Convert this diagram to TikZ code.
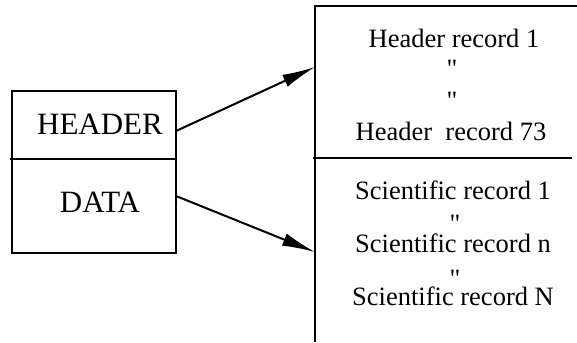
\documentclass[tikz,border=0pt]{standalone}
\usepackage{fontspec}
\setmainfont{Liberation Serif}[Ligatures=TeXOff]
\usetikzlibrary{arrows.meta}
\newcommand{\dq}{\symbol{34}}
\begin{document}
\begin{tikzpicture}[x=1pt,y=-1pt, line width=2pt,
  big/.style={font=\fontsize{31}{37}\selectfont, inner sep=0pt, anchor=base},
  rec/.style={font=\fontsize{26.5}{32}\selectfont, inner sep=0pt, anchor=base},
  arr/.style={-{Latex[length=33pt,width=13pt]}, line width=2pt}]
\useasboundingbox (0,0) rectangle (577,342);
% left box
\draw (12,91) rectangle (176,253);
\draw (10,159) -- (176,159);
\node[big] (hdr) at (100,134) {HEADER};
\node[big] (dat) at (100,212) {DATA};
% right box
\draw (577,6) -- (315,6) -- (315,342);
\draw (313,158) -- (572,158);
\node[rec] (h1) at (454,48) {Header record 1};
\node[rec] (q1) at (452,78) {\dq};
\node[rec] (q2) at (452,109) {\dq};
\node[rec] (h73) at (451,140) {Header\ \ record 73};
\node[rec] (s1) at (453,199) {Scientific record 1};
\node[rec] (q3) at (455,232) {\dq};
\node[rec] (sn) at (453,252) {Scientific record n};
\node[rec] (q4) at (455,287) {\dq};
\node[rec] (sN) at (453,305) {Scientific record N};
% arrow endpoints
\coordinate (hout) at (176,131);
\coordinate (dout) at (176,196);
\coordinate (hin) at (315,67);
\coordinate (din) at (315,252);
\draw[arr] (hout) -- (hin);
\draw[arr] (dout) -- (din);
\end{tikzpicture}
\end{document}
